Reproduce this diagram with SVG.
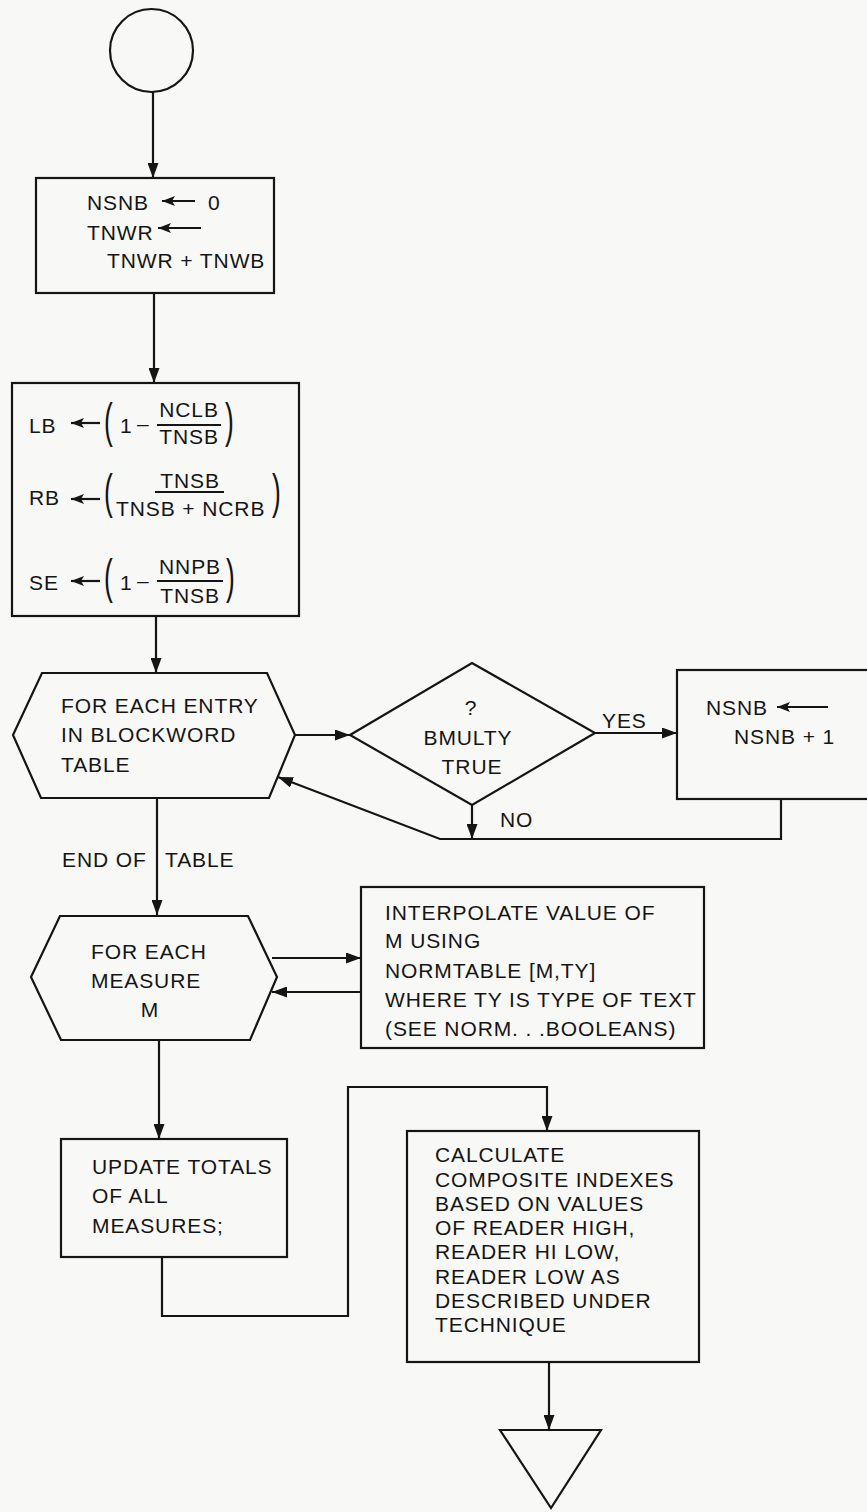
<svg xmlns="http://www.w3.org/2000/svg" width="867" height="1512" viewBox="0 0 867 1512">
<defs>
<style>
.t{font-family:"Liberation Sans",Arial,Helvetica,sans-serif;font-size:21px;letter-spacing:0.9px;fill:#151515}
.m{text-anchor:middle}
.p{font-family:"Liberation Sans",Arial,Helvetica,sans-serif;font-size:48px;fill:#151515}
.s{fill:none;stroke:#151515;stroke-width:2.2;stroke-linejoin:miter}
.c{fill:none;stroke:#151515;stroke-width:2.2}
.a{fill:none;stroke:#151515;stroke-width:2.2}
.b{stroke:#151515;stroke-width:1.8}
</style>
<marker id="ah" markerUnits="userSpaceOnUse" markerWidth="15" markerHeight="11" refX="15" refY="5.5" orient="auto"><path d="M0,0 L15,5.5 L0,11 z" fill="#151515"/></marker>
<marker id="sa" markerUnits="userSpaceOnUse" markerWidth="13" markerHeight="10" refX="13" refY="5" orient="auto"><path d="M0,0 L13,5 L0,10 L3,5 z" fill="#151515"/></marker>
</defs>
<rect x="0" y="0" width="867" height="1512" fill="#f8f8f6"/>

<g id="connectors">
<path class="c" d="M153,92 V178" marker-end="url(#ah)"/>
<path class="c" d="M154,293 V383" marker-end="url(#ah)"/>
<path class="c" d="M156,616 V673" marker-end="url(#ah)"/>
<path class="c" d="M295,735 H350" marker-end="url(#ah)"/>
<path class="c" d="M595,733 H677" marker-end="url(#ah)"/>
<path class="c" d="M472,805 V839" marker-end="url(#ah)"/>
<path class="c" d="M781,799 V839 H440 L278,777" marker-end="url(#ah)"/>
<path class="c" d="M157,798 V915" marker-end="url(#ah)"/>
<path class="c" d="M272,958 H361" marker-end="url(#ah)"/>
<path class="c" d="M361,992 H272" marker-end="url(#ah)"/>
<path class="c" d="M159,1040 V1139" marker-end="url(#ah)"/>
<path class="c" d="M162,1257 V1316 H348 V1087 H547 V1131" marker-end="url(#ah)"/>
<path class="c" d="M549,1362 V1430" marker-end="url(#ah)"/>
<text class="t" x="602" y="728">YES</text>
<text class="t" x="500" y="827">NO</text>
<text class="t" x="62" y="867">END OF</text>
<text class="t" x="165" y="867">TABLE</text>
</g>

<g id="start">
<circle class="s" cx="151.5" cy="50.5" r="41.5"/>
</g>

<g id="init">
<rect class="s" x="36" y="178" width="238" height="115"/>
<text class="t" x="87" y="210">NSNB</text>
<path class="a" d="M195,201 H162" marker-end="url(#sa)"/>
<text class="t" x="208" y="210">0</text>
<text class="t" x="87" y="240">TNWR</text>
<path class="a" d="M201,228 H158" marker-end="url(#sa)"/>
<text class="t" x="107" y="268">TNWR + TNWB</text>
</g>

<g id="ratios">
<rect class="s" x="12" y="383" width="287" height="233"/>
<text class="t" x="29" y="433">LB</text>
<path class="a" d="M100,423 H71" marker-end="url(#sa)"/>
<text class="p" transform="translate(104,437) scale(0.55,1)">(</text>
<text class="t" x="120" y="433">1</text>
<text class="t" x="137" y="431">–</text>
<text class="t m" x="189" y="417">NCLB</text>
<line class="b" x1="157" y1="425" x2="221" y2="425"/>
<text class="t m" x="189" y="444">TNSB</text>
<text class="p" transform="translate(225,437) scale(0.55,1)">)</text>

<text class="t" x="29" y="505">RB</text>
<path class="a" d="M100,499 H71" marker-end="url(#sa)"/>
<text class="p" transform="translate(104,508) scale(0.55,1)">(</text>
<text class="t m" x="190" y="488">TNSB</text>
<line class="b" x1="155" y1="492" x2="224" y2="492"/>
<text class="t" x="116" y="516">TNSB + NCRB</text>
<text class="p" transform="translate(272,508) scale(0.55,1)">)</text>

<text class="t" x="29" y="590">SE</text>
<path class="a" d="M100,581 H71" marker-end="url(#sa)"/>
<text class="p" transform="translate(104,593) scale(0.55,1)">(</text>
<text class="t" x="120" y="590">1</text>
<text class="t" x="137" y="588">–</text>
<text class="t m" x="190" y="574">NNPB</text>
<line class="b" x1="157" y1="581" x2="223" y2="581"/>
<text class="t m" x="190" y="603">TNSB</text>
<text class="p" transform="translate(226,593) scale(0.55,1)">)</text>
</g>

<g id="loop-entries">
<polygon class="s" points="42,673 267,673 295,735 269,798 41,798 13,735"/>
<text class="t" x="61" y="713">FOR EACH ENTRY</text>
<text class="t" x="61" y="742">IN BLOCKWORD</text>
<text class="t" x="61" y="772">TABLE</text>
</g>

<g id="decision">
<polygon class="s" points="350,735 472,663 595,733 472,805"/>
<text class="t m" x="471" y="715">?</text>
<text class="t m" x="468" y="745">BMULTY</text>
<text class="t m" x="472" y="774">TRUE</text>
</g>

<g id="increment">
<rect class="s" x="677" y="670" width="210" height="129"/>
<text class="t" x="706" y="715">NSNB</text>
<path class="a" d="M828,707 H777" marker-end="url(#sa)"/>
<text class="t" x="734" y="744">NSNB + 1</text>
</g>

<g id="loop-measures">
<polygon class="s" points="60,916 248,916 277,977 250,1040 61,1040 31,977"/>
<text class="t" x="91" y="959">FOR EACH</text>
<text class="t" x="91" y="988">MEASURE</text>
<text class="t m" x="150" y="1017">M</text>
</g>

<g id="interpolate">
<rect class="s" x="361" y="887" width="343" height="161"/>
<text class="t" x="385" y="920">INTERPOLATE VALUE OF</text>
<text class="t" x="385" y="948">M USING</text>
<text class="t" x="385" y="978">NORMTABLE [M,TY]</text>
<text class="t" x="385" y="1007">WHERE TY IS TYPE OF TEXT</text>
<text class="t" x="385" y="1036">(SEE NORM. . .BOOLEANS)</text>
</g>

<g id="update">
<rect class="s" x="61" y="1139" width="226" height="118"/>
<text class="t" x="92" y="1174">UPDATE TOTALS</text>
<text class="t" x="92" y="1203">OF ALL</text>
<text class="t" x="92" y="1233">MEASURES;</text>
</g>

<g id="calculate">
<rect class="s" x="407" y="1131" width="292" height="231"/>
<text class="t" x="435" y="1162">CALCULATE</text>
<text class="t" x="435" y="1187">COMPOSITE INDEXES</text>
<text class="t" x="435" y="1211">BASED ON VALUES</text>
<text class="t" x="435" y="1235">OF READER HIGH,</text>
<text class="t" x="435" y="1259">READER HI LOW,</text>
<text class="t" x="435" y="1284">READER LOW AS</text>
<text class="t" x="435" y="1308">DESCRIBED UNDER</text>
<text class="t" x="435" y="1332">TECHNIQUE</text>
</g>

<g id="end">
<polygon class="s" points="500,1430 601,1430 551,1508"/>
</g>
</svg>
